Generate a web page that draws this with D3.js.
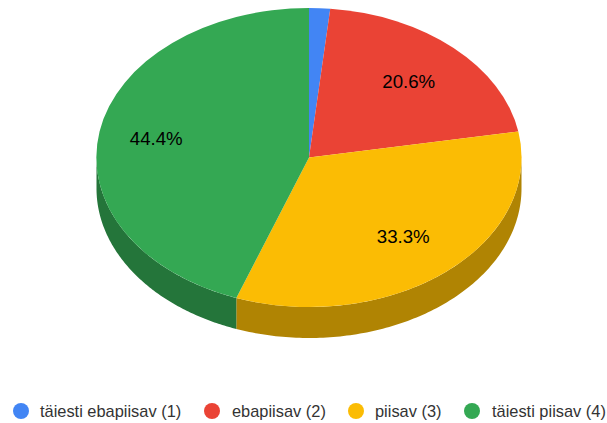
<!DOCTYPE html>
<html>
<head>
<meta charset="utf-8">
<script src="https://cdn.jsdelivr.net/npm/d3@7/dist/d3.min.js"></script>
<style>
html,body{margin:0;padding:0;background:#fff}
svg{display:block}
text{font-family:"Liberation Sans",Arial,sans-serif}
</style>
</head>
<body>
<svg id="c" width="607" height="423"></svg>
<script>
const categories = ["täiesti ebapiisav (1)", "ebapiisav (2)", "piisav (3)", "täiesti piisav (4)"];
const values = [1.6, 20.6, 33.3, 44.4];
const labels = ["", "20.6%", "33.3%", "44.4%"];
const colors = ["#4285f4", "#ea4335", "#fbbc04", "#34a853"];
const sideColors = ["#2e5dab", "#a42f25", "#b08403", "#24753a"];

const cx = 309, cy = 157.5, rx = 212.5, ry = 149.5, depth = 31;

const svg = d3.select("#c");
const pie = d3.pie().sort(null).value(d => d)(values);

// flat-ellipse projection scales
const sx = d3.scaleLinear().domain([-1, 1]).range([cx - rx, cx + rx]);
const sy = d3.scaleLinear().domain([-1, 1]).range([cy - ry, cy + ry]);

// side walls: visible only where the rim faces the viewer (pi/2..3pi/2)
const wall = d3.area()
  .x(a => sx(Math.sin(a)))
  .y0(a => sy(-Math.cos(a)))
  .y1(a => sy(-Math.cos(a)) + depth);

pie.forEach((p, i) => {
  const a0 = Math.max(p.startAngle, Math.PI / 2);
  const a1 = Math.min(p.endAngle, 3 * Math.PI / 2);
  if (a1 <= a0) return;
  const n = 120;
  const angles = d3.range(n + 1).map(k => a0 + (a1 - a0) * k / n);
  svg.append("path").attr("d", wall(angles)).attr("fill", sideColors[i]);
});

// top face
const arc = d3.arc().innerRadius(0).outerRadius(1);
const face = svg.append("g").attr("transform", `translate(${cx},${cy}) scale(${rx},${ry})`);
pie.forEach((p, i) => {
  face.append("path").attr("d", arc(p)).attr("fill", colors[i]);
});

// value labels, centred on the slice at a fraction of the radius
const labelFrac = [0, 0.69, 0.69, 0.73];
pie.forEach((p, i) => {
  if (!labels[i]) return;
  const m = (p.startAngle + p.endAngle) / 2;
  svg.append("text")
    .attr("x", sx(Math.sin(m) * labelFrac[i]))
    .attr("y", sy(-Math.cos(m) * labelFrac[i]))
    .attr("text-anchor", "middle")
    .attr("dominant-baseline", "central")
    .attr("font-size", 18.67)
    .attr("fill", "#000")
    .text(labels[i]);
});

// legend
const legendDotX = [21, 212, 356, 472];
const legendTextX = [40, 232, 375, 492];
const legendY = 411;
categories.forEach((c, i) => {
  svg.append("circle").attr("cx", legendDotX[i]).attr("cy", legendY).attr("r", 8).attr("fill", colors[i]);
  svg.append("text")
    .attr("x", legendTextX[i]).attr("y", legendY)
    .attr("dominant-baseline", "central")
    .attr("font-size", 16.4)
    .attr("fill", "#333")
    .text(c);
});
</script>
</body>
</html>
